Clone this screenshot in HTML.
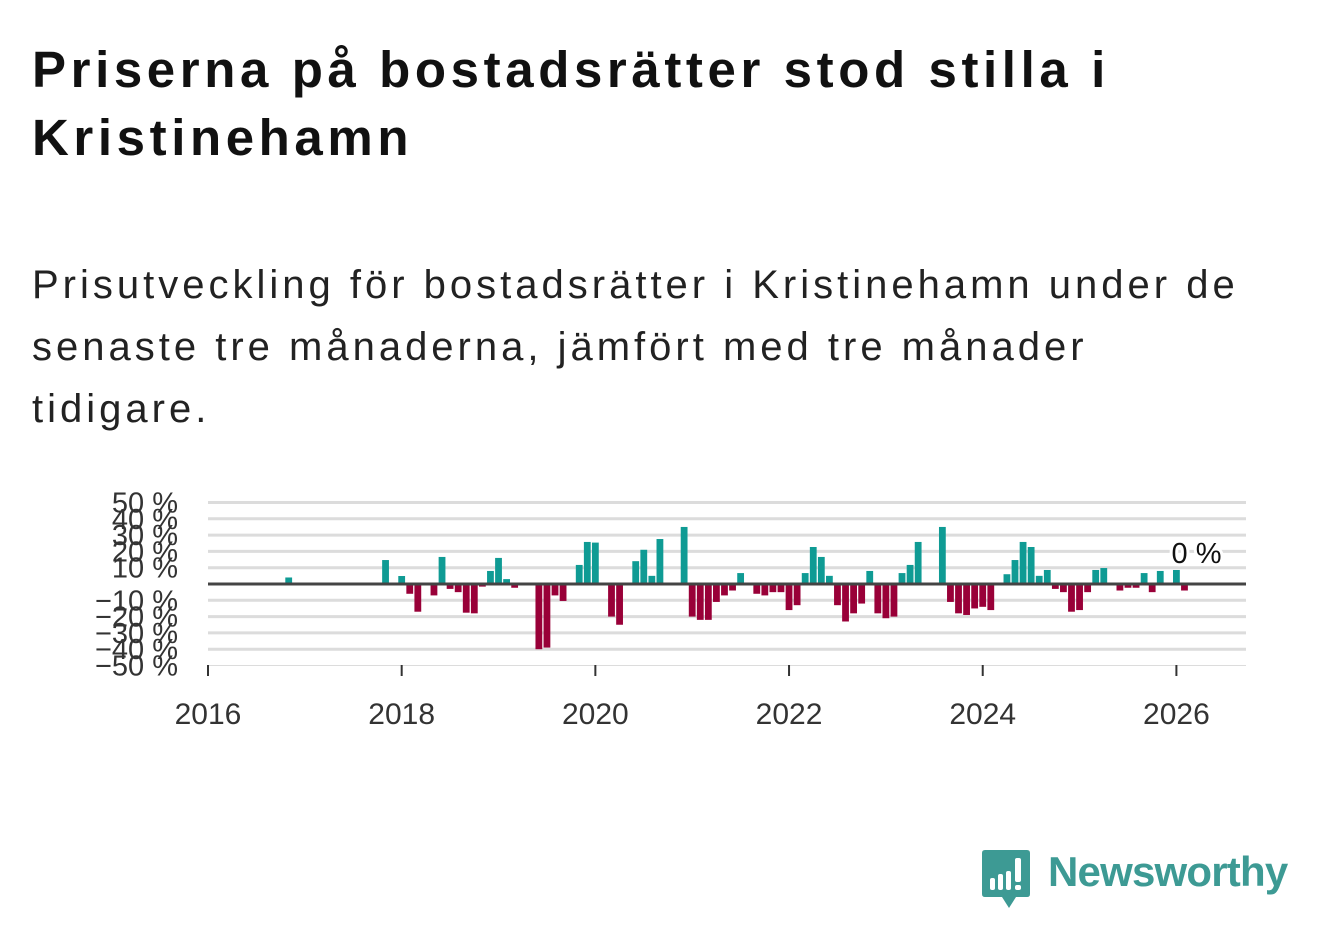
<!DOCTYPE html>
<html><head><meta charset="utf-8">
<style>
body{margin:0;background:#fff;width:1322px;height:939px;overflow:hidden;font-family:"Liberation Sans",sans-serif;}
h1{position:absolute;left:32px;top:36px;margin:0;font-size:51px;line-height:68px;font-weight:bold;color:#111;width:1290px;letter-spacing:4.6px;white-space:nowrap;}
.sub{position:absolute;left:32px;top:254px;margin:0;font-size:40px;line-height:62px;color:#222;width:1290px;letter-spacing:4px;white-space:nowrap;}
svg{position:absolute;left:0;top:0;}
</style></head><body>
<h1>Priserna på bostadsrätter stod stilla i<br>Kristinehamn</h1>
<p class="sub">Prisutveckling för bostadsrätter i Kristinehamn under de<br>senaste tre månaderna, jämfört med tre månader<br>tidigare.</p>
<svg id="chart" width="1322" height="939"></svg>
<div style="position:absolute;left:982px;top:850px;">
<svg width="50" height="60" style="position:static"><path d="M3 0H45Q48 0 48 3V44Q48 47 45 47H34L27 58L20 47H3Q0 47 0 44V3Q0 0 3 0Z" fill="#3d9a94"/>
<rect x="8" y="28" width="5" height="12" rx="2" fill="#fff"/><rect x="16" y="24" width="5" height="16" rx="2" fill="#fff"/><rect x="24" y="21" width="5" height="19" rx="2" fill="#fff"/><rect x="33" y="8" width="6" height="24" rx="2" fill="#fff"/><rect x="33" y="35" width="6" height="5" rx="2" fill="#fff"/></svg>
<span style="position:absolute;left:66px;top:-2px;font-size:42px;font-weight:bold;color:#3d9a94;white-space:nowrap;letter-spacing:-0.8px;">Newsworthy</span>
</div>
<script>
const months=[10,22,24,25,26,28,29,30,31,32,33,34,35,36,37,38,41,42,43,44,46,47,48,50,51,53,54,55,56,59,60,61,62,63,64,65,66,68,69,70,71,72,73,74,75,76,77,78,79,80,81,82,83,84,85,86,87,88,91,92,93,94,95,96,97,99,100,101,102,103,104,105,106,107,108,109,110,111,113,114,115,116,117,118,120,121,122];
const values=[4,14.7,4.9,-6,-17,-7,16.6,-3,-5,-17.6,-18,-1.6,8,16,3,-2.3,-40,-39,-7,-10.4,11.7,25.8,25.4,-20,-25,14,21,5,27.6,35,-20,-22,-22,-11,-7,-4,6.7,-6,-7,-5,-5,-16,-13,6.7,22.7,16.6,5,-13,-23,-18,-12,8,-18,-21,-20,6.7,11.7,25.8,35,-11,-18,-19,-15,-14,-16,6,14.7,25.8,22.7,5,8.6,-3,-5,-17,-16,-5,8.6,9.8,-4,-2.3,-2.3,6.7,-5,8,8.6,-4,0];
const yTicks=[50,40,30,20,10,-10,-20,-30,-40,-50];
const xYears=[2016,2018,2020,2022,2024,2026];
const NS="http://www.w3.org/2000/svg";
const svg=document.getElementById('chart');
const x0=208,pxMonth=8.07,y0=584,pxPct=1.63;
const xs=m=>x0+m*pxMonth;
const ys=v=>y0-v*pxPct;
function mk(t,a){const e=document.createElementNS(NS,t);for(const k in a)e.setAttribute(k,a[k]);svg.appendChild(e);return e;}
yTicks.forEach(v=>{
  const l=mk('line',{x1:208,x2:1246,y1:ys(v),y2:ys(v),stroke:'#dcdcdc','stroke-width':v===-50?1:3});
  
  
  const t=mk('text',{x:178,y:ys(v)+10,'text-anchor':'end','font-size':29,fill:'#333','font-family':'Liberation Sans, sans-serif'});
  t.textContent=(v<0?'\u2212'+(-v):v)+' %';
  
  
});
xYears.forEach(yr=>{
  const x=xs((yr-2016)*12);
  const tk=mk('line',{x1:x,x2:x,y1:665,y2:676,stroke:'#333','stroke-width':2});
  
  
  const t=mk('text',{x:x,y:724,'text-anchor':'middle','font-size':30,fill:'#333','font-family':'Liberation Sans, sans-serif'});
  t.textContent=yr;
  
  
});
months.forEach((m,i)=>{
  const v=values[i];
  if(v===0)return;
  const r=mk('rect',{x:xs(m)-3.4,width:6.8,y:Math.min(ys(v),y0),height:Math.abs(ys(v)-y0),fill:v>0?'#0f9b94':'#990038'});
  
  
});
const z=mk('line',{x1:208,x2:1246,y1:y0,y2:y0,stroke:'#444','stroke-width':3});


const lm=months[months.length-1],lv=values[values.length-1];
const lbl=mk('text',{x:xs(lm)+4,y:ys(lv)-21,'text-anchor':'middle','font-size':29,fill:'#111',stroke:'#fff','stroke-width':6,'paint-order':'stroke','font-family':'Liberation Sans, sans-serif'});
lbl.textContent=lv+' %';


</script>
</body></html>
